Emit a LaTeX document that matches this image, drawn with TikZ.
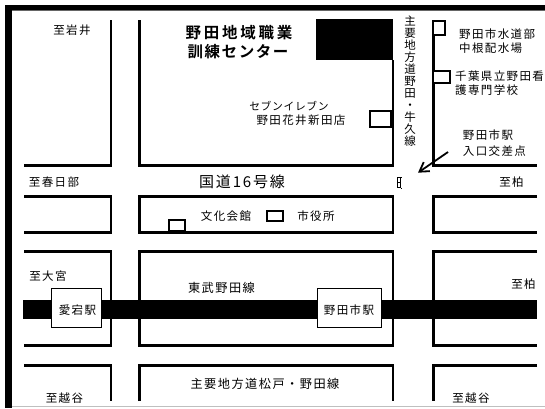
\documentclass[tikz,border=0pt]{standalone}
\usepackage{fontspec}
\setmainfont[LetterSpace=12]{Noto Sans CJK JP}
\newfontfamily\jpbold[LetterSpace=18]{Noto Sans CJK JP Bold}
\newfontfamily\jpboldtight[LetterSpace=10]{Noto Sans CJK JP Bold}
\newfontfamily\jptight[LetterSpace=6]{Noto Sans CJK JP}
\usetikzlibrary{arrows.meta}
\tikzset{
  road/.style={line width=2.8pt,line cap=butt,line join=miter},
  fac/.style={draw,line width=2pt,fill=white},
  lbl/.style={inner sep=0pt,font=\fontsize{11.5}{14}\selectfont,text=black},
  widelbl/.style={inner sep=0pt,font=\fontsize{12.2}{14}\selectfont,text=black},
  title/.style={inner sep=0pt,font=\fontsize{15.5}{19}\jpbold},
  titletight/.style={inner sep=0pt,font=\fontsize{15.5}{19}\jpboldtight},
  stn/.style={draw,line width=1.4pt,fill=white,inner sep=0pt}
}
\begin{document}
\begin{tikzpicture}[x=1pt,y=-1pt]
\useasboundingbox (0,0) rectangle (545,408);
\fill[white] (0,0) rectangle (545,408);
% frame
\draw[black!25,line width=0.8pt] (11,406.5) -- (545,406.5);
\draw[black!60,line width=0.8pt] (11,10.5) -- (545,10.5);
\fill[black] (5,4.5) rectangle (545,10);
\fill[black] (5,4.5) rectangle (11.5,408);
% rail
\fill[black] (23,300) rectangle (537,319);
% top row
\draw[road] (24,165.5) -- (111,165.5) -- (111,20);
\draw[road] (139.5,20) -- (139.5,165.5) -- (393,165.5) -- (393,60);
\draw[road] (433.5,20) -- (433.5,165.5) -- (537,165.5);
\fill[black] (316,19) rectangle (393,60);
% second row
\draw[road] (24,196.5) -- (111,196.5) -- (111,232.3) -- (24,232.3);
\draw[road] (139.5,196.5) -- (393,196.5) -- (393,232.3) -- (139.5,232.3) -- cycle;
\draw[road] (537,196.5) -- (433.5,196.5) -- (433.5,232.3) -- (537,232.3);
% third row
\draw[road] (24,251.3) -- (111,251.3) -- (111,345.7) -- (24,345.7);
\draw[road] (139.5,251.3) -- (393,251.3) -- (393,345.7) -- (139.5,345.7) -- cycle;
\draw[road] (537,251.3) -- (433.5,251.3) -- (433.5,345.7) -- (537,345.7);
% fourth row
\draw[road] (24,365.3) -- (111,365.3) -- (111,401);
\draw[road] (139.5,401) -- (139.5,365.3) -- (393,365.3) -- (393,401);
\draw[road] (537,365.3) -- (433.5,365.3) -- (433.5,401);
% facilities
\draw[fac] (432.7,20.5) rectangle (444.7,34.7);
\draw[fac] (432.7,71.3) rectangle (450,83.3);
\draw[fac] (370,110.7) rectangle (391,127);
\draw[fac] (168.5,219.7) rectangle (185,231);
\draw[fac] (267,211) rectangle (283.3,221.3);
% signal mark
\draw[line width=1pt] (397.5,177.5) rectangle (400.5,187.5) (397.5,182.5) -- (400.5,182.5) (400.5,177) -- (402,177) (400.5,188) -- (402,188);
% stations
\node[stn,minimum width=49.5pt,minimum height=38.5pt] (atago) at (76.5,308) {};
\node[stn,minimum width=63.5pt,minimum height=38.5pt] (nodast) at (349.5,308) {};
\node[lbl] (atagolbl) at (77.5,310) {愛宕駅};
\node[lbl] (nodalbl) at (349,310) {野田市駅};
% arrow
\coordinate (arrA) at (448,152);
\coordinate (arrB) at (418,172.7);
\draw[line width=1.8pt,-{Straight Barb[length=9pt,width=11pt,line width=1.8pt]}] (arrA) -- (arrB);
% labels
\node[lbl] (iwai) at (72,30) {至岩井};
\node[title] (center1) at (239,33) {野田地域職業};
\node[titletight] (center2) at (238,52) {訓練センター};
\node[inner sep=0pt,font=\fontsize{10.8}{14}\jptight] (seven1) at (289,106) {セブンイレブン};
\node[lbl] (seven2) at (301,120.5) {野田花井新田店};
\node[lbl] (kasuk) at (54,182.5) {至春日部};
\node[inner sep=0pt,font=\fontsize{15}{17}\selectfont] (r16) at (242,181.5) {国道16号線};
\node[lbl] (kashi1) at (511.5,182) {至柏};
\node[lbl,align=center,font=\fontsize{11.5}{12}\selectfont] (vroad) at (410,80.7) {主\\要\\地\\方\\道\\野\\田\\・\\牛\\久\\線};
\node[lbl,align=left,anchor=west] (suido) at (459,41) {野田市水道部\\中根配水場};
\node[lbl,align=left,anchor=west] (kango) at (455,83) {千葉県立野田看\\護専門学校};
\node[lbl,anchor=west] (cross1) at (462.7,135) {野田市駅};
\node[lbl,anchor=west] (cross2) at (462.7,151) {入口交差点};
\node[lbl] (bunka) at (226,216) {文化会館};
\node[lbl] (shiyaku) at (316,216) {市役所};
\node[lbl] (omiya) at (48,276) {至大宮};
\node[widelbl] (tobu) at (221.5,288) {東武野田線};
\node[lbl] (kashi2) at (523.5,284) {至柏};
\node[lbl] (koshi1) at (64.5,398) {至越谷};
\node[lbl] (koshi2) at (471,398) {至越谷};
\node[widelbl] (matsudo) at (265,384) {主要地方道松戸・野田線};
\end{tikzpicture}
\end{document}
